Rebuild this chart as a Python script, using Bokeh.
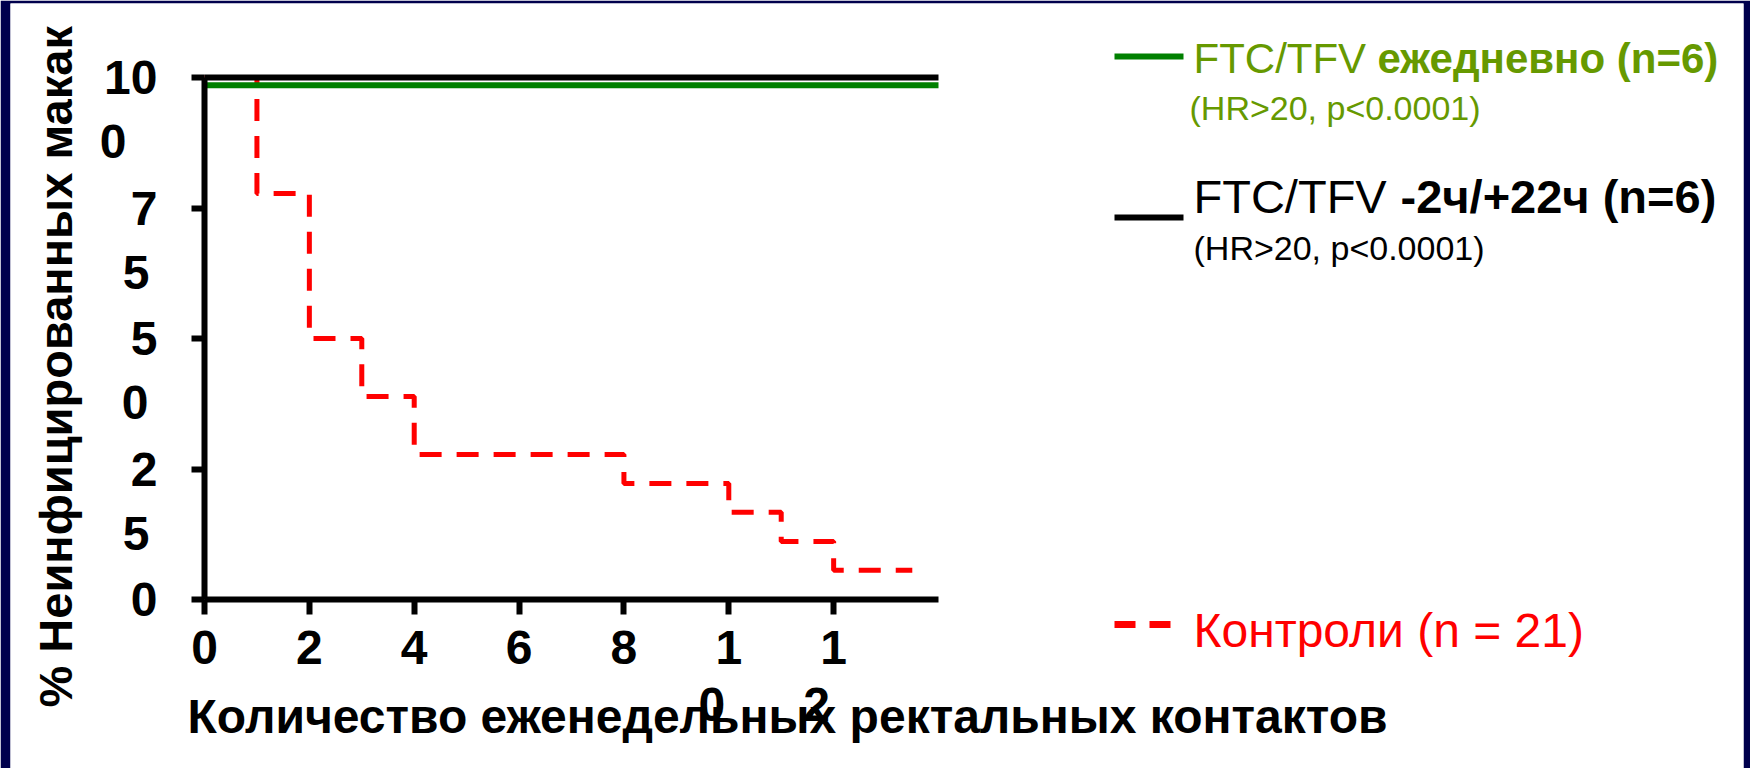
import math
from bokeh.plotting import figure
from bokeh.models import FixedTicker, Label, Arrow
from bokeh.embed import file_html
from bokeh.resources import INLINE

# ---------------- data ----------------
weeks_daily = [0, 14]
pct_daily = [98.5, 98.5]            # drawn just under 100 so both lines show
weeks_intermittent = [0, 14]
pct_intermittent = [100, 100]
weeks_control = [0, 1, 2, 3, 4, 8, 10, 11, 12, 13.5]
pct_control = [100, 77.8, 50, 38.9, 27.8, 22.2, 16.7, 11.1, 5.6, 5.6]

x_ticks = [0, 2, 4, 6, 8, 10, 12]
x_tick_first = ["0", "2", "4", "6", "8", "1", "1"]
x_tick_second = ["", "", "", "", "", "0", "2"]
y_ticks = [0, 25, 50, 75, 100]
y_tick_first = ["0", "2", "5", "7", "10"]
y_tick_second = ["", "5", "0", "5", "0"]

x_title = "Количество еженедельных ректальных контактов"
y_title = "% Неинфицированных макак"

leg_daily_a = "FTC/TFV"
leg_daily_b = "ежедневно (n=6)"
leg_daily_c = "(HR>20, p<0.0001)"
leg_inter_a = "FTC/TFV"
leg_inter_b = "-2ч/+22ч (n=6)"
leg_inter_c = "(HR>20, p<0.0001)"
leg_control = "Контроли (n = 21)"

# ---------------- geometry (pixels of the 1750x768 page) ----------------
W, H = 1750, 768
B_LEFT, B_TOP, B_RIGHT = 10, 3, 7          # dark slide border
OX, OY = 204, 599                           # pixel of data origin (0, 0)
XS = 734 / 14.0                             # px per week
YS = 522 / 100.0                            # px per percent
FONT = "Liberation Sans"


def dx(sx):
    """page x pixel -> data x"""
    return (sx - OX) / XS


def dy(sy):
    """page y pixel -> data y"""
    return (OY - sy) / YS


p = figure(width=W, height=H,
           x_range=(dx(B_LEFT), dx(W - B_RIGHT)),
           y_range=(dy(H), dy(B_TOP)),
           output_backend="svg", toolbar_location=None, title=None,
           min_border_left=B_LEFT, min_border_right=B_RIGHT,
           min_border_top=B_TOP, min_border_bottom=0)
p.grid.visible = False
p.outline_line_color = None
p.background_fill_color = "white"
p.border_fill_color = "#00004d"

# ---------------- series ----------------
p.step(weeks_control, pct_control, mode="after", line_color="#ff0000",
       line_width=5, line_dash="22 15")
p.line(weeks_daily, pct_daily, line_color="#008000", line_width=6)
p.line(weeks_intermittent, pct_intermittent, line_color="#000000", line_width=6)

# ---------------- axes ----------------
for ax in (p.xaxis[0], p.yaxis[0]):
    ax.axis_line_width = 6
    ax.axis_line_color = "black"
    ax.major_tick_line_width = 6
    ax.major_tick_line_color = "black"
    ax.major_tick_in = 0
    ax.minor_tick_line_color = None
    ax.major_label_text_font = FONT
    ax.major_label_text_font_style = "bold"
    ax.major_label_text_font_size = "48px"
    ax.major_label_text_color = "black"
    ax.fixed_location = 0

xa = p.xaxis[0]
xa.ticker = FixedTicker(ticks=x_ticks)
xa.bounds = (0, 14)
xa.major_label_overrides = {t: s for t, s in zip(x_ticks, x_tick_first)}
xa.major_tick_out = 15
xa.major_label_standoff = 16

ya = p.yaxis[0]
ya.ticker = FixedTicker(ticks=y_ticks)
ya.bounds = (0, 100)
ya.major_label_overrides = {t: s for t, s in zip(y_ticks, y_tick_first)}
ya.major_tick_out = 13
ya.major_label_standoff = 34


def text(x, y, s, size, color="black", style="normal", align="left", angle=0.0):
    p.add_layout(Label(x=x, y=y, text=s, angle=angle, text_align=align,
                       text_baseline="middle", text_font=FONT,
                       text_font_style=style, text_font_size=size,
                       text_color=color))


# second lines of the wrapped tick labels (centre of the glyphs)
y_second_right = {100: 126, 75: 149, 50: 148, 25: 149}
for t, s in zip(y_ticks, y_tick_second):
    if s:
        text(dx(y_second_right[t]), t - 64 / YS, s, "48px", style="bold",
             align="right")
for t, s in zip(x_ticks, x_tick_second):
    if s:
        text(t - 17 / XS, dy(704), s, "48px", style="bold", align="center")

# axis titles
text(dx(187), dy(716), x_title, "48px", style="bold")
text(dx(55), dy(707), y_title, "47px", style="bold", angle=math.pi / 2)

# ---------------- legend ----------------
GREEN_TXT = "#669900"
p.add_layout(Arrow(end=None, x_start=dx(1114), y_start=dy(56), x_end=dx(1183),
                   y_end=dy(56), line_color="#008000", line_width=6))
p.add_layout(Arrow(end=None, x_start=dx(1114), y_start=dy(217), x_end=dx(1183),
                   y_end=dy(217), line_color="#000000", line_width=6))
p.add_layout(Arrow(end=None, x_start=dx(1114), y_start=dy(624), x_end=dx(1171),
                   y_end=dy(624), line_color="#ff0000", line_width=7,
                   line_dash="21 14"))

text(dx(1193), dy(58), leg_daily_a, "42px", GREEN_TXT)
text(dx(1377), dy(58), leg_daily_b, "42px", GREEN_TXT, "bold")
text(dx(1189), dy(107), leg_daily_c, "34px", GREEN_TXT)
text(dx(1193), dy(196), leg_inter_a, "47px")
text(dx(1400), dy(196), leg_inter_b, "47px", style="bold")
text(dx(1193), dy(247), leg_inter_c, "34px")
text(dx(1193), dy(630), leg_control, "48px", "#ff0000")

open("out.html", "w").write(file_html(p, INLINE))
